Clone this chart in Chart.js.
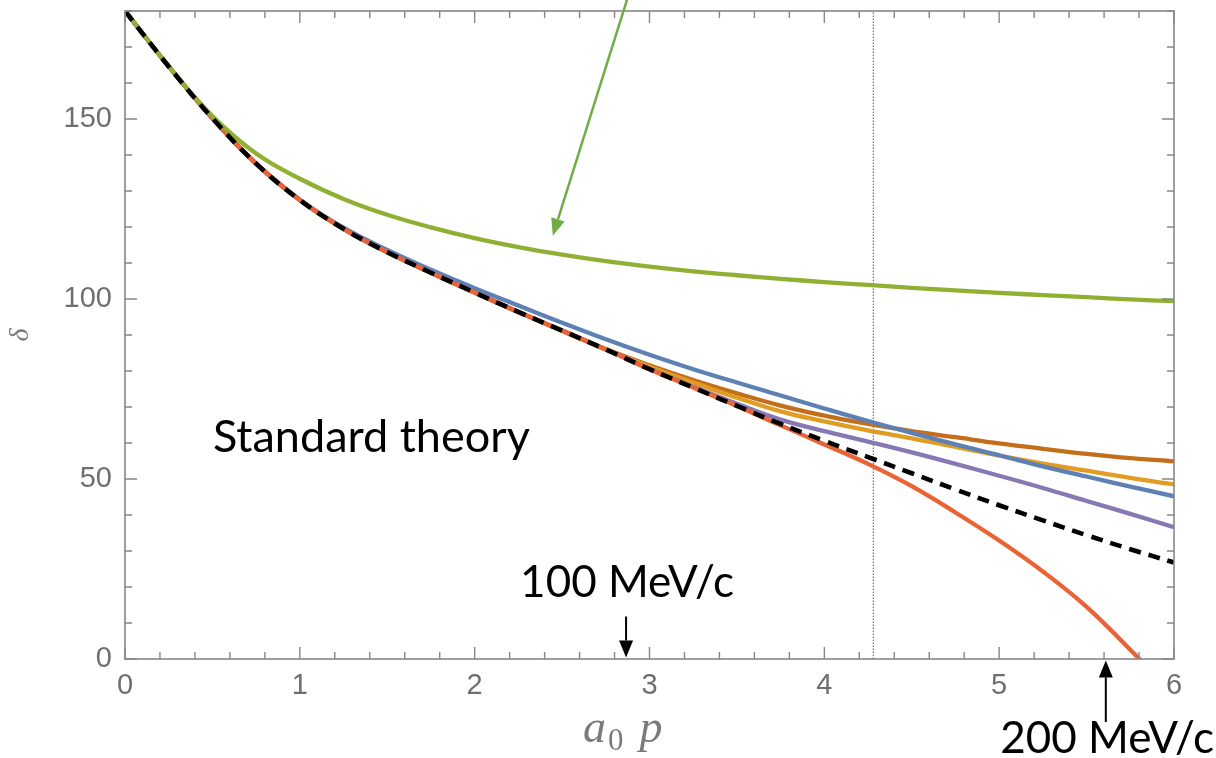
<!DOCTYPE html>
<html><head><meta charset="utf-8">
<script src="https://cdn.jsdelivr.net/npm/chart.js@4.4.1/dist/chart.umd.min.js"></script>
<style>html,body{margin:0;padding:0;background:#fff;overflow:hidden}#wrap{width:1216px;height:758px;position:relative}</style>
</head><body><div id="wrap"><canvas id="c" width="1216" height="758"></canvas></div>
<script>
// ---- data ----
const xs          = [0,0.25,0.5,0.75,1,1.25,1.5,1.75,2,2.25,2.5,2.75,3,3.25,3.5,3.75,4,4.25,4.5,4.75,5,5.25,5.5,5.75,6];
const standard    = [180,164.6,150.2,137.6,127.5,119.5,113,107.3,101.8,96.4,91.2,86,80.5,75.4,70.3,65.3,60.6,56.1,51.6,47.1,42.7,38.5,34.4,30.5,26.8];
const seriesBlue  = [180,164.6,150.2,137.6,127.6,119.8,113.6,108.1,103,98.2,93.4,88.8,84.5,80.5,76.8,73.2,69.6,66.1,62.8,59.6,56.6,53.5,50.7,47.9,45.2];
const seriesOrange= [180,164.6,150.2,137.6,127.5,119.5,113,107.3,101.8,96.4,91.2,85.9,81.2,76.8,72.6,68.8,66,63.5,61.3,58.9,56.5,54.3,52.3,50.3,48.5];
const seriesGreen = [180,164.6,150.8,140.4,133.4,127.8,123.4,119.9,116.9,114.4,112.3,110.5,109,107.7,106.6,105.6,104.7,103.9,103.1,102.4,101.7,101.1,100.5,99.9,99.4];
const seriesRed   = [180,164.6,150.2,137.6,127.5,119.5,113,107.3,101.8,96.4,91.2,86,80.5,75.4,70.3,64.9,59.6,54.2,48,40.7,32.9,24.3,14.5,2.6,-10];
const seriesPurple= [180,164.6,150.2,137.6,127.5,119.5,113,107.3,101.8,96.4,91.2,86,80.6,75.6,70.9,66.5,63.3,60.4,57.4,54.2,50.9,47.5,43.9,40.3,36.6];
const seriesBrown = [180,164.6,150.2,137.6,127.5,119.5,113,107.3,101.8,96.4,91.3,86.1,81.6,77.5,73.8,70.4,67.6,65.3,63.3,61.6,59.9,58.4,57,55.8,54.9];
const markerX     = 4.28;            // dotted vertical line
const xTickLabels = [0,1,2,3,4,5,6];
const yTickLabels = [0,50,100,150];
const notes = [
  {text:'Standard theory', x:0.503, y:57.6,  size:45},
  {text:'100 MeV/c',       x:2.26,  y:17.3,  size:44},
  {text:'200 MeV/c',       x:5.006, y:-26,   size:44}
];
const arrows = [
  {x1:2.866, y1:11.8,  x2:2.866, y2:0.4,  color:'#000000'},
  {x1:5.61,  y1:-17.5, x2:5.61,  y2:-0.4, color:'#000000'},
  {x1:2.872, y1:183.2, x2:2.447, y2:117.6, color:'#70AD47'}
];

const pts = arr => xs.map((x,i) => ({x, y: arr[i]}));
const curve = (label, arr, color, order, extra) => Object.assign({
  label, data: pts(arr), borderColor: color, backgroundColor: color,
  borderWidth: 4.3, pointRadius: 0, fill: false, tension: 0.4, order
}, extra || {});

const decor = {
  id: 'decor',
  afterDatasetsDraw(chart) {
    const {ctx, chartArea: a, scales: {x, y}} = chart;
    ctx.save();
    ctx.strokeStyle = '#878787';
    ctx.lineWidth = 1.6;
    ctx.strokeRect(a.left, a.top, a.right - a.left, a.bottom - a.top);
    ctx.lineWidth = 1.4;
    ctx.beginPath();
    for (let i = 0; i <= 30; i++) {
      const px = x.getPixelForValue(i * 0.2);
      const len = (i % 5 === 0) ? 12 : 7;
      ctx.moveTo(px, a.bottom); ctx.lineTo(px, a.bottom - len);
      ctx.moveTo(px, a.top);    ctx.lineTo(px, a.top + len);
    }
    for (let i = 0; i <= 18; i++) {
      const py = y.getPixelForValue(i * 10);
      const len = (i % 5 === 0) ? 12 : 7;
      ctx.moveTo(a.left, py);  ctx.lineTo(a.left + len, py);
      ctx.moveTo(a.right, py); ctx.lineTo(a.right - len, py);
    }
    ctx.stroke();
    ctx.restore();
  },
  afterDraw(chart) {
    const {ctx, scales: {x, y}} = chart;
    ctx.save();
    // x axis title  a0 p
    ctx.fillStyle = '#7a7a7a';
    ctx.textBaseline = 'alphabetic';
    const bx = x.getPixelForValue(2.62), by = 742;
    ctx.font = 'italic 46px "Liberation Serif"';
    ctx.fillText('a', bx, by);
    const wa = ctx.measureText('a').width;
    ctx.font = '31px "Liberation Serif"';
    ctx.fillText('0', bx + wa + 2, by + 8);
    const w0 = ctx.measureText('0').width;
    ctx.font = 'italic 46px "Liberation Serif"';
    ctx.fillText('p', bx + wa + w0 + 18, by);
    // notes
    ctx.fillStyle = '#000';
    notes.forEach(n => {
      ctx.font = n.size + 'px Lato';
      ctx.fillText(n.text, x.getPixelForValue(n.x), y.getPixelForValue(n.y));
    });
    // arrows
    arrows.forEach(ar => {
      const X1 = x.getPixelForValue(ar.x1), Y1 = y.getPixelForValue(ar.y1);
      const X2 = x.getPixelForValue(ar.x2), Y2 = y.getPixelForValue(ar.y2);
      const ang = Math.atan2(Y2 - Y1, X2 - X1);
      const hl = 17, hw = 7;
      const bxp = X2 - hl * Math.cos(ang), byp = Y2 - hl * Math.sin(ang);
      ctx.strokeStyle = ar.color; ctx.fillStyle = ar.color;
      ctx.lineWidth = ar.color === '#000000' ? 2 : 2.5;
      ctx.beginPath(); ctx.moveTo(X1, Y1); ctx.lineTo(bxp, byp); ctx.stroke();
      ctx.beginPath();
      ctx.moveTo(X2, Y2);
      ctx.lineTo(bxp + hw * Math.sin(ang), byp - hw * Math.cos(ang));
      ctx.lineTo(bxp - hw * Math.sin(ang), byp + hw * Math.cos(ang));
      ctx.closePath(); ctx.fill();
    });
    ctx.restore();
  }
};

new Chart(document.getElementById('c'), {
  type: 'line',
  data: {
    datasets: [
      curve('Standard theory', standard, '#000000', 0, {borderDash: [12, 8], borderWidth: 4.6}),
      curve('Green', seriesGreen, '#8FB032', 1),
      curve('Red', seriesRed, '#EB6235', 2),
      curve('Purple', seriesPurple, '#8778B3', 3),
      curve('Blue', seriesBlue, '#5E81B5', 4),
      curve('Orange', seriesOrange, '#E19C24', 5),
      curve('Brown', seriesBrown, '#C56E1A', 6),
      {label: 'marker', data: [{x: markerX, y: 0}, {x: markerX, y: 180}], borderColor: '#555',
       borderWidth: 1, borderDash: [1.5, 1.5], pointRadius: 0, order: 7}
    ]
  },
  options: {
    responsive: false, animation: false, devicePixelRatio: 1,
    layout: {padding: {top: 11, right: 42, left: 0, bottom: 0}},
    plugins: {legend: {display: false}, tooltip: {enabled: false}},
    scales: {
      x: {
        type: 'linear', min: 0, max: 6,
        grid: {display: false, drawTicks: false}, border: {display: false},
        afterBuildTicks: s => { s.ticks = xTickLabels.map(v => ({value: v})); },
        afterFit: s => { s.height = 99; s.paddingLeft = 0; s.paddingRight = 0; },
        ticks: {padding: 10, color: '#6f6f6f', font: {family: '"Liberation Sans"', size: 29}, maxRotation: 0}
      },
      y: {
        type: 'linear', min: 0, max: 180,
        grid: {display: false, drawTicks: false}, border: {display: false},
        afterBuildTicks: s => { s.ticks = yTickLabels.map(v => ({value: v})); },
        afterFit: s => { s.width = 125; s.paddingTop = 0; s.paddingBottom = 0; },
        ticks: {padding: 13, color: '#6f6f6f', font: {family: '"Liberation Sans"', size: 29}},
        title: {display: true, text: 'δ', color: '#7a7a7a', padding: {top: 4, bottom: 0},
                font: {family: '"Liberation Serif"', size: 28, style: 'italic'}}
      }
    }
  },
  plugins: [decor]
});
</script></body></html>
